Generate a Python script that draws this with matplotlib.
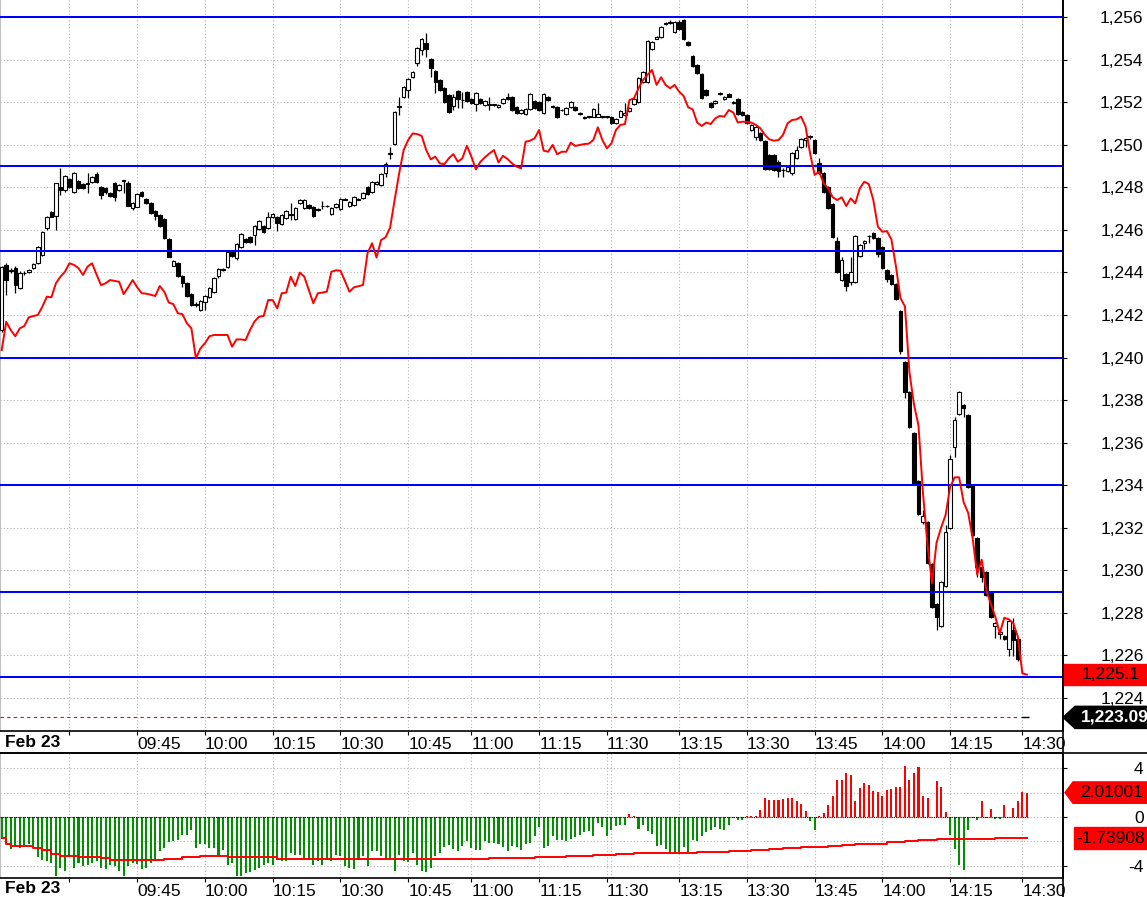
import matplotlib
matplotlib.use('Agg')
import matplotlib.pyplot as plt
import numpy as np
from matplotlib.patches import Polygon, Rectangle
from matplotlib.lines import Line2D
from matplotlib.transforms import blended_transform_factory

plt.rcParams['font.family'] = ['Liberation Sans', 'DejaVu Sans']
FS = 12.5

# 1-minute candles, Feb 23 (09:15 - 11:30, 13:00 - 14:30)
opens = [
    1241.30, 1244.35, 1244.05, 1244.19, 1243.25, 1243.96, 1244.03, 1244.19, 1244.43, 1244.82,
    1246.10, 1246.84, 1246.65, 1248.03, 1247.87, 1248.39, 1247.79, 1248.29, 1248.14, 1248.16,
    1248.26, 1248.62, 1248.00, 1247.95, 1247.74, 1248.18, 1247.87, 1248.28, 1248.22, 1247.01,
    1247.09, 1247.76, 1247.43, 1247.25, 1246.89, 1246.70, 1246.51, 1245.55, 1244.32, 1244.43,
    1243.83, 1243.49, 1242.97, 1242.49, 1242.23, 1242.62, 1242.86, 1243.09, 1243.83, 1244.12,
    1244.27, 1244.97, 1244.66, 1245.21, 1245.55, 1245.65, 1245.76, 1246.02, 1246.18, 1246.07,
    1246.59, 1246.59, 1246.27, 1246.54, 1246.72, 1246.49, 1247.25, 1247.01, 1247.17, 1247.09,
    1246.94, 1247.10, 1247.10, 1246.74, 1247.09, 1246.96, 1247.41, 1247.12, 1247.17, 1247.41,
    1247.48, 1248.00, 1247.79, 1248.14, 1248.11, 1248.65, 1249.58, 1250.02, 1251.77, 1252.26,
    1252.57, 1253.20, 1253.82, 1254.45, 1254.79, 1254.03, 1253.46, 1253.04, 1252.65, 1252.34,
    1251.82, 1252.52, 1252.08, 1252.46, 1252.13, 1251.90, 1252.13, 1251.85, 1251.85, 1251.85,
    1251.76, 1251.94, 1252.23, 1252.26, 1251.76, 1251.47, 1251.43, 1251.66, 1252.05, 1252.02,
    1251.47, 1252.23, 1251.77, 1251.79, 1251.61, 1251.44, 1251.76, 1251.79, 1251.45, 1251.27,
    1251.30, 1251.32, 1251.32, 1251.30, 1251.30, 1251.32, 1251.00, 1251.32, 1251.40, 1251.58,
    1251.90, 1252.02, 1252.96, 1252.96, 1254.48, 1254.99, 1255.05, 1255.68, 1255.78, 1255.31,
    1255.78, 1255.86, 1254.81, 1254.18, 1253.73, 1253.32, 1252.57, 1251.98, 1251.94, 1252.39,
    1252.13, 1252.37, 1252.02, 1252.13, 1251.55, 1251.40, 1250.69, 1250.35, 1250.57, 1250.17,
    1249.52, 1249.52, 1249.19, 1248.79, 1248.76, 1248.65, 1249.36, 1249.88, 1250.22, 1250.36,
    1250.22, 1249.16, 1248.69, 1248.00, 1247.20, 1245.47, 1243.64, 1243.91, 1243.56, 1243.53,
    1244.77, 1245.36, 1245.69, 1245.83, 1245.63, 1245.21, 1244.11, 1243.88, 1243.45, 1242.18,
    1239.77, 1238.36, 1236.43, 1234.19, 1232.25, 1232.28, 1230.28, 1228.41, 1227.40, 1229.28,
    1231.97, 1235.78, 1237.33, 1237.77, 1237.30, 1233.96, 1231.50, 1230.14, 1229.93, 1229.00,
    1227.40, 1227.00, 1226.93, 1226.30, 1227.19, 1226.75]
highs = [
    1244.30, 1244.45, 1244.20, 1244.30, 1244.05, 1244.05, 1244.15, 1244.45, 1245.25, 1245.95,
    1246.65, 1246.90, 1248.20, 1248.89, 1248.60, 1248.45, 1248.70, 1248.35, 1248.20, 1248.65,
    1248.52, 1248.70, 1248.05, 1248.00, 1247.80, 1248.25, 1248.15, 1248.35, 1248.28, 1247.30,
    1247.72, 1247.82, 1247.48, 1247.30, 1246.95, 1246.75, 1246.56, 1245.60, 1244.60, 1244.50,
    1243.88, 1243.55, 1243.02, 1242.62, 1242.70, 1242.95, 1243.30, 1243.77, 1244.19, 1244.20,
    1245.02, 1245.02, 1245.37, 1245.84, 1245.60, 1245.70, 1246.25, 1246.46, 1246.23, 1246.85,
    1246.78, 1246.64, 1246.75, 1246.93, 1247.28, 1247.06, 1247.45, 1247.45, 1247.22, 1247.14,
    1247.02, 1247.35, 1247.18, 1247.06, 1247.26, 1247.48, 1247.48, 1247.37, 1247.61, 1247.48,
    1247.79, 1248.05, 1248.28, 1248.28, 1248.67, 1249.20, 1249.91, 1251.60, 1252.26, 1252.75,
    1253.14, 1253.48, 1254.58, 1255.00, 1255.26, 1254.08, 1253.50, 1253.09, 1252.70, 1252.39,
    1252.37, 1252.57, 1252.49, 1252.51, 1252.18, 1252.50, 1252.18, 1252.09, 1252.26, 1251.93,
    1251.92, 1252.18, 1252.41, 1252.31, 1251.81, 1251.68, 1251.71, 1252.42, 1252.10, 1252.07,
    1252.42, 1252.28, 1251.85, 1251.84, 1251.68, 1251.76, 1252.04, 1251.84, 1251.52, 1251.34,
    1251.37, 1251.71, 1251.94, 1251.37, 1251.37, 1251.37, 1251.24, 1251.63, 1251.98, 1251.76,
    1252.18, 1253.17, 1253.48, 1254.94, 1254.89, 1255.13, 1255.60, 1255.76, 1255.84, 1255.83,
    1255.84, 1255.92, 1254.86, 1254.23, 1253.78, 1253.37, 1252.62, 1252.03, 1252.10, 1252.47,
    1252.31, 1252.42, 1252.07, 1252.18, 1251.60, 1251.45, 1250.98, 1250.87, 1250.62, 1250.22,
    1249.57, 1249.57, 1249.30, 1248.90, 1248.99, 1249.64, 1249.94, 1250.30, 1250.38, 1250.46,
    1250.27, 1249.36, 1248.74, 1248.05, 1247.25, 1245.68, 1244.74, 1243.96, 1244.74, 1245.78,
    1245.34, 1245.52, 1245.76, 1245.88, 1245.68, 1245.26, 1244.16, 1243.93, 1243.50, 1242.23,
    1239.82, 1238.41, 1236.48, 1234.24, 1232.83, 1232.33, 1230.33, 1228.46, 1229.48, 1232.13,
    1235.42, 1237.22, 1238.41, 1237.82, 1237.35, 1234.01, 1231.55, 1230.19, 1229.98, 1229.05,
    1227.56, 1227.16, 1226.98, 1227.67, 1227.74, 1226.80]
lows = [
    1241.20, 1242.94, 1243.95, 1243.02, 1243.20, 1243.90, 1243.98, 1244.15, 1244.40, 1244.78,
    1245.99, 1246.58, 1245.99, 1247.64, 1247.80, 1247.98, 1247.74, 1247.90, 1247.90, 1247.72,
    1248.20, 1248.20, 1247.43, 1247.70, 1247.55, 1247.37, 1247.82, 1247.74, 1247.10, 1246.95,
    1247.05, 1247.55, 1247.20, 1246.74, 1246.46, 1246.15, 1245.55, 1244.70, 1244.28, 1243.80,
    1243.33, 1242.85, 1242.43, 1242.39, 1242.18, 1242.23, 1242.82, 1243.05, 1243.72, 1244.08,
    1244.22, 1244.72, 1244.60, 1245.16, 1245.40, 1245.40, 1245.29, 1245.97, 1245.86, 1246.02,
    1246.55, 1245.96, 1246.22, 1246.50, 1246.46, 1246.44, 1247.20, 1246.96, 1246.96, 1246.60,
    1246.90, 1246.96, 1247.06, 1246.70, 1247.04, 1246.92, 1247.38, 1247.08, 1247.12, 1247.38,
    1247.44, 1247.63, 1247.74, 1248.10, 1248.06, 1248.50, 1249.31, 1249.97, 1251.40, 1252.20,
    1252.18, 1253.15, 1253.71, 1254.22, 1254.14, 1253.20, 1252.45, 1252.52, 1251.97, 1251.50,
    1251.63, 1251.74, 1251.71, 1252.02, 1251.89, 1251.58, 1251.89, 1251.80, 1251.63, 1251.81,
    1251.72, 1251.90, 1252.12, 1251.58, 1251.42, 1251.43, 1251.39, 1251.62, 1251.66, 1251.58,
    1251.43, 1252.05, 1251.73, 1251.27, 1251.57, 1251.40, 1251.72, 1251.58, 1251.41, 1251.23,
    1251.26, 1251.28, 1251.28, 1251.26, 1251.26, 1250.95, 1250.96, 1251.28, 1251.36, 1251.54,
    1251.86, 1251.98, 1252.92, 1252.92, 1254.44, 1254.95, 1255.00, 1255.64, 1255.66, 1255.27,
    1255.38, 1254.90, 1254.64, 1253.66, 1253.30, 1252.16, 1252.29, 1251.74, 1251.90, 1252.35,
    1252.09, 1252.22, 1251.90, 1251.38, 1251.35, 1250.95, 1250.65, 1250.20, 1250.17, 1248.79,
    1248.79, 1248.76, 1248.50, 1248.47, 1248.72, 1248.60, 1249.32, 1249.84, 1249.91, 1250.25,
    1249.58, 1248.64, 1247.71, 1246.96, 1245.63, 1243.98, 1243.60, 1243.14, 1243.41, 1243.48,
    1244.72, 1245.08, 1245.40, 1245.55, 1244.71, 1244.14, 1243.56, 1243.40, 1242.70, 1240.16,
    1238.08, 1236.70, 1234.07, 1232.58, 1232.20, 1230.31, 1228.24, 1227.19, 1227.35, 1229.23,
    1231.92, 1235.34, 1237.28, 1237.22, 1233.88, 1231.61, 1229.70, 1229.46, 1228.79, 1227.74,
    1226.80, 1226.75, 1226.72, 1225.97, 1225.97, 1225.76]
closes = [
    1244.25, 1243.64, 1244.10, 1243.41, 1243.99, 1243.98, 1244.11, 1244.38, 1245.21, 1245.88,
    1246.59, 1246.62, 1248.18, 1247.87, 1248.53, 1248.03, 1248.65, 1247.95, 1247.95, 1248.20,
    1248.47, 1248.26, 1247.64, 1247.76, 1247.60, 1247.56, 1248.11, 1248.32, 1247.14, 1247.25,
    1247.67, 1247.60, 1247.25, 1246.78, 1246.65, 1246.20, 1245.60, 1244.74, 1244.55, 1243.83,
    1243.49, 1242.89, 1242.47, 1242.53, 1242.65, 1242.89, 1243.25, 1243.72, 1244.14, 1244.16,
    1244.97, 1244.77, 1245.32, 1245.79, 1245.44, 1245.44, 1246.20, 1246.41, 1245.91, 1246.59,
    1246.73, 1246.30, 1246.70, 1246.88, 1246.76, 1247.01, 1247.40, 1247.40, 1247.01, 1246.65,
    1246.98, 1247.14, 1247.14, 1247.01, 1247.21, 1247.43, 1247.45, 1247.32, 1247.56, 1247.45,
    1247.74, 1247.68, 1248.23, 1248.23, 1248.62, 1249.08, 1249.62, 1251.55, 1251.81, 1252.70,
    1253.09, 1253.43, 1254.53, 1254.95, 1254.48, 1253.59, 1252.93, 1252.57, 1252.02, 1251.55,
    1252.26, 1252.13, 1252.12, 1252.07, 1251.94, 1252.45, 1251.94, 1252.04, 1251.89, 1251.89,
    1251.87, 1252.13, 1252.16, 1251.63, 1251.47, 1251.63, 1251.66, 1252.37, 1251.71, 1251.63,
    1252.37, 1252.10, 1251.81, 1251.32, 1251.65, 1251.71, 1251.99, 1251.63, 1251.49, 1251.31,
    1251.34, 1251.66, 1251.43, 1251.34, 1251.34, 1251.00, 1251.19, 1251.58, 1251.50, 1251.71,
    1252.13, 1253.12, 1253.43, 1254.89, 1254.84, 1255.08, 1255.55, 1255.72, 1255.70, 1255.78,
    1255.42, 1254.95, 1254.69, 1253.71, 1253.35, 1252.21, 1252.34, 1251.79, 1252.05, 1252.43,
    1252.26, 1252.26, 1251.94, 1251.43, 1251.40, 1251.00, 1250.93, 1250.82, 1250.22, 1248.84,
    1248.84, 1248.81, 1248.78, 1248.83, 1248.94, 1249.59, 1249.75, 1250.25, 1250.33, 1250.40,
    1249.63, 1248.69, 1247.79, 1247.01, 1245.68, 1244.03, 1244.58, 1243.36, 1244.03, 1245.73,
    1245.29, 1245.47, 1245.73, 1245.60, 1244.85, 1244.19, 1243.67, 1243.45, 1242.75, 1240.32,
    1238.39, 1236.75, 1234.12, 1232.63, 1232.57, 1230.36, 1228.29, 1227.82, 1229.43, 1231.81,
    1235.21, 1237.06, 1238.36, 1237.61, 1233.93, 1231.66, 1230.17, 1229.67, 1228.84, 1227.82,
    1227.51, 1227.11, 1226.75, 1227.62, 1226.72, 1225.81]

# red overlay line (upper panel)
red_line = [
    1240.35, 1241.68, 1241.29, 1241.00, 1241.37, 1241.48, 1241.89, 1241.95, 1242.00, 1242.39,
    1242.86, 1242.83, 1243.49, 1243.80, 1244.03, 1244.43, 1244.35, 1244.20, 1243.88, 1244.27,
    1244.43, 1243.90, 1243.40, 1243.49, 1243.64, 1243.60, 1243.56, 1242.98, 1243.30, 1243.64,
    1243.30, 1243.02, 1243.00, 1242.95, 1242.89, 1243.36, 1243.09, 1242.58, 1242.51, 1242.08,
    1242.04, 1241.61, 1241.37, 1239.96, 1240.43, 1240.67, 1241.00, 1241.06, 1241.06, 1241.06,
    1241.06, 1240.51, 1240.85, 1240.85, 1240.82, 1241.30, 1241.70, 1241.92, 1241.95, 1242.70,
    1242.70, 1242.31, 1243.02, 1243.05, 1243.80, 1243.36, 1243.99, 1243.80, 1243.17, 1242.55,
    1243.02, 1243.05, 1243.10, 1244.03, 1244.10, 1244.08, 1243.60, 1243.09, 1243.30, 1243.35,
    1243.41, 1244.90, 1245.37, 1244.70, 1245.52, 1245.65, 1246.10, 1247.40, 1248.65, 1249.75,
    1250.22, 1250.53, 1250.50, 1250.41, 1249.75, 1249.31, 1249.44, 1249.12, 1249.09, 1249.36,
    1249.56, 1249.20, 1249.36, 1249.95, 1249.44, 1248.84, 1249.20, 1249.41, 1249.59, 1249.75,
    1249.17, 1249.48, 1249.33, 1249.12, 1248.97, 1248.89, 1250.14, 1250.19, 1250.30, 1250.69,
    1249.72, 1249.67, 1249.99, 1249.55, 1249.67, 1249.67, 1250.10, 1249.94, 1249.99, 1250.03,
    1250.05, 1250.22, 1250.82, 1250.22, 1249.83, 1250.06, 1250.69, 1250.93, 1250.97, 1252.10,
    1252.18, 1252.65, 1253.04, 1253.28, 1253.51, 1252.81, 1253.17, 1252.81, 1252.65, 1252.81,
    1252.49, 1252.29, 1251.76, 1251.66, 1251.04, 1250.88, 1251.04, 1250.97, 1251.24, 1251.35,
    1251.32, 1251.63, 1251.51, 1251.04, 1251.08, 1251.07, 1251.04, 1250.93, 1250.77, 1250.46,
    1250.25, 1250.19, 1250.22, 1250.46, 1251.00, 1251.16, 1251.19, 1251.32, 1250.85, 1249.59,
    1248.58, 1248.73, 1248.19, 1247.95, 1247.53, 1247.40, 1247.53, 1247.12, 1247.48, 1247.24,
    1247.95, 1248.26, 1248.15, 1247.40, 1246.15, 1245.91, 1245.94, 1245.55, 1244.30, 1242.80,
    1242.40, 1239.30, 1237.80, 1236.80, 1233.60, 1231.20, 1229.40, 1231.30, 1232.00, 1232.60,
    1233.90, 1234.37, 1234.37, 1233.20, 1232.70, 1231.50, 1229.80, 1230.50, 1229.07, 1228.45,
    1227.82, 1227.04, 1227.77, 1227.70, 1227.51, 1226.88, 1225.16, 1225.10]

# oscillator histogram (lower panel)
hist = [
    -1.81, -2.14, -2.63, -2.47, -2.55, -2.36, -2.19, -2.36, -3.29, -3.51,
    -3.65, -3.79, -4.88, -4.20, -4.47, -3.10, -4.20, -3.79, -4.06, -3.92,
    -3.79, -3.65, -4.20, -4.28, -3.92, -4.06, -4.47, -4.83, -4.06, -3.79,
    -3.84, -4.28, -4.20, -3.79, -3.51, -2.83, -2.55, -2.09, -2.00, -1.87,
    -1.45, -1.45, -1.10, -2.55, -2.19, -2.19, -2.55, -2.55, -3.10, -2.69,
    -3.98, -3.79, -4.83, -4.88, -4.61, -4.55, -4.33, -4.20, -3.98, -3.79,
    -3.98, -3.57, -3.65, -3.65, -2.96, -3.10, -3.10, -3.51, -3.37, -3.98,
    -3.65, -3.98, -3.51, -3.65, -3.10, -3.24, -4.06, -4.20, -4.28, -3.51,
    -3.18, -4.06, -2.83, -2.83, -3.18, -3.51, -3.37, -4.47, -3.10, -3.65,
    -3.73, -2.96, -3.98, -4.47, -4.55, -4.20, -3.24, -2.96, -2.47, -2.28,
    -2.63, -2.83, -2.36, -2.00, -2.55, -2.74, -2.69, -2.00, -2.14, -2.10,
    -2.20, -2.47, -2.83, -2.41, -2.47, -2.74, -2.19, -2.14, -1.54, -0.82,
    -2.55, -2.41, -1.54, -1.87, -1.92, -2.00, -1.81, -1.65, -1.45, -1.26,
    -1.18, -1.59, -0.49, -0.82, -1.54, -1.04, -0.77, -0.63, -0.63, 0.27,
    0.11, -0.99, -0.63, -1.18, -1.37, -2.36, -2.28, -2.63, -3.02, -2.96,
    -3.02, -2.47, -2.91, -1.92, -2.00, -1.54, -1.26, -1.10, -0.82, -0.99,
    -1.04, -0.63, -0.08, -0.27, -0.22, 0.11, 0.11, 0.11, 0.60, 1.56,
    1.43, 1.37, 1.37, 1.48, 1.56, 1.56, 1.29, 1.10, 0.47, -0.36,
    -1.04, 0.11, 0.33, 1.02, 1.76, 3.07, 3.02, 3.62, 3.48, 1.34,
    2.39, 2.80, 2.66, 2.11, 2.03, 1.70, 2.25, 2.33, 2.44, 2.44,
    4.22, 3.07, 3.62, 4.12, 1.76, 1.56, 0.00, 2.99, 2.47, 0.44,
    -1.45, -2.61, -3.92, -4.39, -1.10, -0.05, -0.22, 1.34, -0.11, 0.69,
    -0.16, -0.16, 0.99, 0.00, 0.77, 1.29, 2.03, 2.01]

# signal line of the oscillator (stepped)
sig_idx = [0, 1, 2, 7, 9, 11, 13, 17, 22, 24, 29, 36, 40, 44, 50, 61, 73, 98, 108, 118,
           125, 131, 136, 140, 154, 161, 166, 170, 173, 177, 183, 186, 189, 192, 196, 200,
           203, 207, 210, 220, 227]
sig_val = [-1.75, -2.19, -2.36, -2.55, -2.69, -3.02, -3.18, -3.29, -3.37, -3.51, -3.57,
           -3.46, -3.29, -3.24, -3.32, -3.43, -3.46, -3.43, -3.37, -3.29, -3.24, -3.16,
           -3.07, -2.99, -2.91, -2.83, -2.74, -2.63, -2.55, -2.47, -2.41, -2.33, -2.25,
           -2.19, -2.08, -2.00, -1.92, -1.84, -1.78, -1.74, -1.739]

levels = [1256, 1249, 1245, 1240, 1234, 1229, 1225]
tick_pos = [15, 30, 45, 60, 75, 90, 104, 119, 134, 150, 165, 180, 195, 210, 226]
tick_lab = ['', '09:45', '10:00', '10:15', '10:30', '10:45', '11:00', '11:15', '11:30',
            '13:15', '13:30', '13:45', '14:00', '14:15', '14:30']
grid_pos = [15, 30, 45, 60, 75, 90, 104, 119, 135, 150, 165, 180, 195, 210, 226]
last_red = 1225.1
last_px = 1223.09
hist_last = 2.01001
sig_last = -1.73908

W, H = 1147, 897
fig = plt.figure(figsize=(W / 100, H / 100), dpi=100)
ax = fig.add_axes([0, (H - 731) / H, 1063 / W, 731 / H])
ax2 = fig.add_axes([0, (H - 878) / H, 1063 / W, 125 / H], sharex=ax)

gridc = '#b4b4b4'
dot = (0, (1, 2))

# ---- upper panel ----
ax.set_xlim(-0.38, 235.0)
ax.set_ylim(1222.45, 1256.8)
yt = list(range(1224, 1257, 2))
for v in yt:
    ax.axhline(v, color=gridc, ls=dot, lw=0.8, zorder=0)
for g in grid_pos:
    ax.axvline(g, color=gridc, ls=dot, lw=0.8, zorder=0)

x = np.arange(len(opens))
o = np.array(opens); c = np.array(closes)
ax.vlines(x, lows, highs, color='black', lw=0.9, zorder=2)
up = c >= o
ax.bar(x[up], c[up] - o[up], bottom=o[up], width=0.78, color='white',
       edgecolor='black', linewidth=0.8, zorder=3)
ax.bar(x[~up], c[~up] - o[~up], bottom=o[~up], width=0.78, color='black',
       edgecolor='black', linewidth=0.8, zorder=3)

for lv in levels:
    ax.axhline(lv, color='#0000ff', lw=1.45, zorder=4)
ax.plot(np.arange(len(red_line)), red_line, color='#ff0000', lw=1.4, zorder=5)
ax.hlines(last_px, -0.4, 225, colors='#ff0000', linestyles=(0, (3, 3)), lw=0.8, zorder=4)
ax.hlines(last_px, 225.8, 227.4, colors='black', lw=1.0, zorder=4)

ax.yaxis.tick_right()
ax.set_yticks(yt, [f'{v:,}' for v in yt], ha='right', fontsize=FS)
ax.tick_params(axis='y', direction='out', length=3, pad=55, width=0.8)
ax.set_xticks(tick_pos, tick_lab, ha='left', fontsize=FS)
ax.tick_params(axis='x', direction='out', length=3, pad=1, width=0.8)
ax.spines['top'].set_visible(False)
ax.spines['left'].set_color('#c0c0c0')
ax.spines['bottom'].set_linewidth(1.2)
ax.spines['right'].set_linewidth(1.2)
ax.text(5 / 1063, -11 / 731, 'Feb 23', transform=ax.transAxes, fontsize=FS,
        fontweight='bold', va='center', ha='left')

tr = blended_transform_factory(ax.transAxes, ax.transData)
xr = W / 1063
ax.add_patch(Rectangle((1.0, last_red - 0.5), xr - 1.0, 1.0, transform=tr,
                       color='#ff0000', clip_on=False, zorder=6))
ax.text(1082 / 1063, last_red, f'{last_red:,.1f}', transform=tr, fontsize=FS,
        va='center', ha='left', color='black', clip_on=False, zorder=7)
hh = 0.52
ax.add_patch(Polygon([(1.0, last_px), (1075 / 1063, last_px + hh), (xr, last_px + hh),
                      (xr, last_px - hh), (1075 / 1063, last_px - hh)], closed=True,
                     transform=tr, color='black', clip_on=False, zorder=6))
ax.text(1081 / 1063, last_px, f'{last_px:,.2f}', transform=tr, fontsize=FS,
        fontweight='bold', va='center', ha='left', color='white', clip_on=False, zorder=7)

# ---- lower panel ----
ax2.set_ylim(-5.02, 5.27)
for v in [-4, -2, 0, 2, 4]:
    ax2.axhline(v, color=gridc, ls=dot, lw=0.8, zorder=0)
for g in grid_pos + [134]:
    ax2.axvline(g, color=gridc, ls=dot, lw=0.8, zorder=0)
hv = np.array(hist)
hx = np.arange(len(hv))
cols = np.where(hv >= 0, '#ff0000', '#009000')
ax2.bar(hx, hv, width=0.45, color=cols, zorder=2)
ax2.hlines(0, -0.4, 227.4, colors='black', linestyles=(0, (1, 1)), lw=0.8, zorder=3)
ax2.step(sig_idx, sig_val, where='post', color='#ff0000', lw=1.4, zorder=4)

ax2.yaxis.tick_right()
ax2.set_yticks([4, 0, -4], ['4', '0', '-4'], ha='right', fontsize=FS)
ax2.tick_params(axis='y', direction='out', length=3, pad=55, width=0.8)
ax2.tick_params(axis='x', direction='out', length=3, pad=1, width=0.8, labelsize=FS)
for lab in ax2.get_xticklabels():
    lab.set_ha('left')
ax2.spines['left'].set_color('#c0c0c0')
for s in ['top', 'bottom', 'right']:
    ax2.spines[s].set_linewidth(1.2)
ax2.text(5 / 1063, -10 / 125, 'Feb 23', transform=ax2.transAxes, fontsize=FS,
         fontweight='bold', va='center', ha='left')

tr2 = blended_transform_factory(ax2.transAxes, ax2.transData)
h2 = 0.88
ax2.add_patch(Polygon([(1065 / 1063, hist_last), (1073 / 1063, hist_last + h2),
                       (xr, hist_last + h2), (xr, hist_last - h2),
                       (1073 / 1063, hist_last - h2)], closed=True, transform=tr2,
                      color='#ff0000', clip_on=False, zorder=6))
ax2.text(1080 / 1063, hist_last, f'{hist_last:.5f}', transform=tr2, fontsize=FS,
         va='center', ha='left', color='black', clip_on=False, zorder=7)
ax2.add_patch(Rectangle((1074 / 1063, sig_last - h2), xr - 1074 / 1063, 2 * h2,
                        transform=tr2, color='#ff0000', clip_on=False, zorder=6))
ax2.text(1076 / 1063, sig_last, f'{sig_last:.5f}', transform=tr2, fontsize=FS,
         va='center', ha='left', color='black', clip_on=False, zorder=7)

# frame lines that run across the whole picture
fig.add_artist(Line2D([1063 / W, 1063 / W], [0, 1], color='black', lw=1.2))
fig.add_artist(Line2D([0, 1], [(H - 753) / H, (H - 753) / H], color='black', lw=1.2))

fig.savefig('out.png', dpi=100)
